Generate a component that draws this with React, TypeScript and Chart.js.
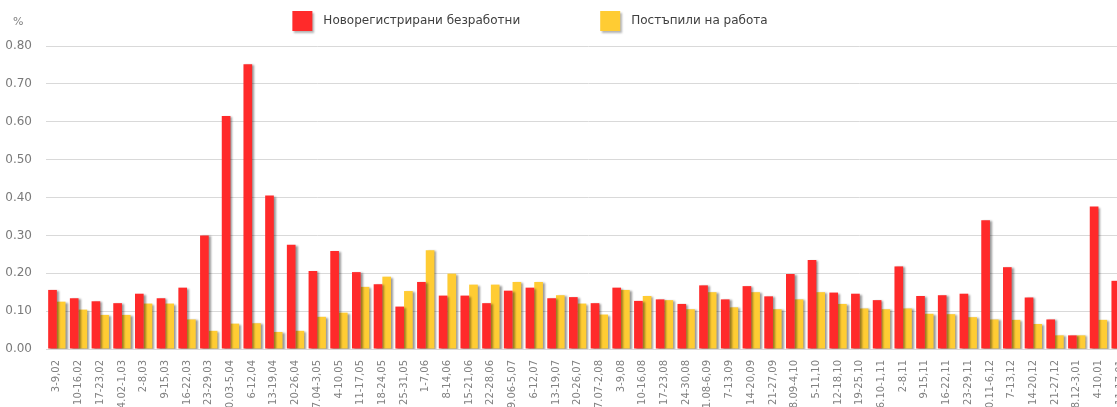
import React, { useEffect, useRef } from 'react';
import { Chart, registerables } from 'chart.js';

Chart.register(...registerables);

const categories = [
  '3-9,02', '10-16,02', '17-23,02', '24.02-1,03', '2-8,03', '9-15,03', '16-22,03', '23-29,03',
  '30.03-5,04', '6-12,04', '13-19,04', '20-26,04', '27.04-3,05', '4-10,05', '11-17,05', '18-24,05',
  '25-31,05', '1-7,06', '8-14,06', '15-21,06', '22-28,06', '29.06-5,07', '6-12,07', '13-19,07',
  '20-26,07', '27.07-2,08', '3-9,08', '10-16,08', '17-23,08', '24-30,08', '31.08-6,09', '7-13,09',
  '14-20,09', '21-27,09', '28.09-4,10', '5-11,10', '12-18,10', '19-25,10', '26.10-1,11', '2-8,11',
  '9-15,11', '16-22,11', '23-29,11', '30.11-6,12', '7-13,12', '14-20,12', '21-27,12', '28.12-3,01',
  '4-10,01', '11-17,01',
];

const newlyRegistered = [
  0.156, 0.134, 0.126, 0.121, 0.146, 0.134, 0.162, 0.300, 0.615, 0.752,
  0.405, 0.275, 0.206, 0.259, 0.203, 0.171, 0.112, 0.177, 0.141, 0.141,
  0.121, 0.154, 0.162, 0.134, 0.137, 0.121, 0.162, 0.127, 0.131, 0.119,
  0.168, 0.131, 0.166, 0.139, 0.198, 0.235, 0.149, 0.146, 0.129, 0.218,
  0.140, 0.142, 0.146, 0.340, 0.216, 0.136, 0.078, 0.036, 0.376, 0.180,
];

const startedWork = [
  0.125, 0.104, 0.090, 0.090, 0.120, 0.120, 0.078, 0.048, 0.067, 0.068,
  0.045, 0.048, 0.085, 0.096, 0.164, 0.191, 0.153, 0.261, 0.199, 0.170,
  0.170, 0.177, 0.177, 0.142, 0.120, 0.091, 0.156, 0.140, 0.129, 0.105,
  0.150, 0.110, 0.150, 0.105, 0.131, 0.150, 0.119, 0.107, 0.105, 0.107,
  0.093, 0.092, 0.084, 0.078, 0.077, 0.066, 0.036, 0.036, 0.077, 0.090,
];

const seriesLabels = ['Новорегистрирани безработни', 'Постъпили на работа'];
const seriesColors = ['#ff2a2a', '#ffcc33'];
const yMin = 0;
const yMax = 0.8;
const yStep = 0.1;
const yUnit = '%';

const FONT = '"DejaVu Sans", sans-serif';

const decorPlugin = {
  id: 'decor',
  beforeDatasetsDraw(chart: any) {
    const ctx = chart.ctx;
    ctx.save();
    ctx.shadowColor = 'rgba(0,0,0,0.4)';
    ctx.shadowOffsetX = 2;
    ctx.shadowOffsetY = 1;
    ctx.shadowBlur = 2;
  },
  afterDatasetsDraw(chart: any) {
    chart.ctx.restore();
  },
  afterDraw(chart: any) {
    const ctx = chart.ctx;
    const area = chart.chartArea;
    ctx.save();
    // unit label
    ctx.font = '11px ' + FONT;
    ctx.fillStyle = '#7f7f7f';
    ctx.textAlign = 'left';
    ctx.textBaseline = 'middle';
    ctx.fillText(yUnit, area.left - 33, 22);

    // legend
    ctx.font = '12px ' + FONT;
    const box = 20;
    const gapText = 11;
    const gapItem = 80;
    const items = chart.data.datasets.map((ds: any) => ({
      text: ds.label,
      color: ds.backgroundColor,
      w: ctx.measureText(ds.label).width,
    }));
    const total =
      items.reduce((s: number, it: any) => s + box + gapText + it.w, 0) + gapItem * (items.length - 1);
    let x = 530 - total / 2;
    const boxTop = 11;
    items.forEach((it: any) => {
      ctx.save();
      ctx.shadowColor = 'rgba(0,0,0,0.3)';
      ctx.shadowOffsetX = 2;
      ctx.shadowOffsetY = 2;
      ctx.shadowBlur = 2;
      ctx.fillStyle = it.color;
      ctx.fillRect(x, boxTop, box, box);
      ctx.restore();
      ctx.fillStyle = '#404040';
      ctx.textAlign = 'left';
      ctx.textBaseline = 'middle';
      ctx.fillText(it.text, x + box + gapText, boxTop + box / 2);
      x += box + gapText + it.w + gapItem;
    });
    ctx.restore();
  },
};

export default function App() {
  const canvasRef = useRef<HTMLCanvasElement | null>(null);

  useEffect(() => {
    if (!canvasRef.current) return;
    const chart = new Chart(canvasRef.current, {
      type: 'bar',
      data: {
        labels: categories,
        datasets: [
          {
            label: seriesLabels[0],
            data: newlyRegistered,
            backgroundColor: seriesColors[0],
            categoryPercentage: 0.8,
            barPercentage: 1.0,
          },
          {
            label: seriesLabels[1],
            data: startedWork,
            backgroundColor: seriesColors[1],
            categoryPercentage: 0.8,
            barPercentage: 1.0,
          },
        ],
      },
      options: {
        animation: false,
        responsive: false,
        layout: { padding: { top: 46, left: 0, right: 0, bottom: 0 } },
        plugins: {
          legend: { display: false },
          tooltip: { enabled: false },
          title: { display: false },
        },
        scales: {
          x: {
            grid: { display: false, drawTicks: false },
            border: { display: false },
            ticks: {
              autoSkip: false,
              minRotation: 90,
              maxRotation: 90,
              padding: 11,
              color: '#808080',
              font: { family: FONT, size: 10 },
            },
            afterFit(scale: any) {
              scale.height = 81;
              scale.paddingRight = 0;
              scale.paddingLeft = 0;
            },
          },
          y: {
            min: yMin,
            max: yMax,
            grid: { color: '#d9d9d9', drawTicks: false, lineWidth: 1 },
            border: { display: false },
            ticks: {
              stepSize: yStep,
              padding: 14,
              color: '#7a7a7a',
              font: { family: FONT, size: 12 },
              callback: (v: any) => Number(v).toFixed(2),
            },
            afterFit(scale: any) {
              scale.width = 46;
            },
          },
        },
      },
      plugins: [decorPlugin],
    });
    return () => chart.destroy();
  }, []);

  return (
    <div
      style={{
        position: 'fixed',
        left: 0,
        top: 0,
        width: 1117,
        height: 407,
        overflow: 'hidden',
        background: '#ffffff',
      }}
    >
      <canvas
        ref={canvasRef}
        width={1131}
        height={430}
        style={{ position: 'absolute', left: 0, top: 0, width: 1131, height: 430 }}
      />
    </div>
  );
}
